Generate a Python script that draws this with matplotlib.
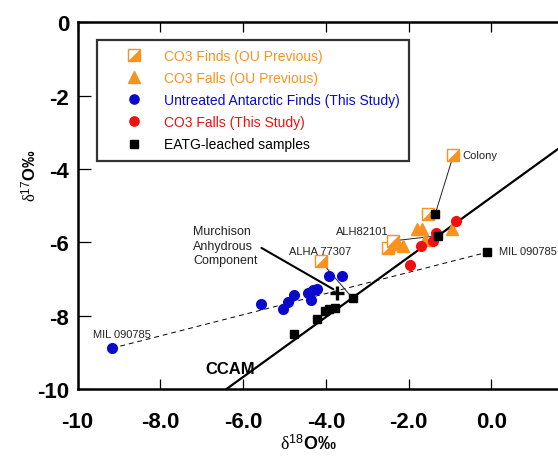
import numpy as np
import matplotlib
matplotlib.use('Agg')
import matplotlib.pyplot as plt
from matplotlib.legend_handler import HandlerTuple

plt.rcParams['font.family'] = ['Liberation Sans', 'DejaVu Sans']
plt.rcParams['mathtext.fontset'] = 'custom'
plt.rcParams['mathtext.rm'] = 'Liberation Serif'
plt.rcParams['mathtext.it'] = 'Liberation Serif:italic'
plt.rcParams['mathtext.sf'] = 'Liberation Sans'

# ==================== data ====================
# Untreated Antarctic finds (this study)
ant_x = [-9.17, -5.57, -5.03, -4.91, -4.76, -4.44, -4.36, -4.30, -4.22, -3.92, -3.60]
ant_y = [-8.89, -7.69, -7.82, -7.64, -7.43, -7.39, -7.56, -7.29, -7.27, -6.91, -6.91]

# EATG-leached samples
eatg_x = [-4.76, -4.22, -4.02, -3.92, -3.78, -3.35, -1.36, -1.29, -0.10]
eatg_y = [-8.50, -8.09, -7.86, -7.82, -7.79, -7.53, -5.23, -5.82, -6.27]

# CO3 falls (this study)
fall_x = [-0.86, -1.34, -1.41, -1.70, -1.97]
fall_y = [-5.41, -5.75, -5.96, -6.11, -6.62]

# CO3 falls (OU previous)
oufall_x = [-1.81, -1.68, -2.26, -2.14, -1.60, -0.96]
oufall_y = [-5.64, -5.64, -6.05, -6.10, -5.94, -5.64]

# CO3 finds (OU previous)
oufind_x = [-4.12, -2.49, -2.37, -1.53, -0.92]
oufind_y = [-6.52, -6.16, -5.96, -5.23, -3.62]

# Murchison anhydrous component
mac_x, mac_y = -3.74, -7.39

# tie lines: untreated/previous -> leached
ties = [((-0.92, -3.62), (-1.36, -5.23)),   # Colony
        ((-4.12, -6.52), (-3.35, -7.53)),   # ALHA 77307
        ((-2.37, -5.96), (-1.29, -5.82))]   # ALH82101
mil_tie = ((-9.17, -8.89), (-0.10, -6.27))  # MIL 090785

# CCAM line
ccam_x = [-6.40, 2.0]
ccam_y = [-10.0, -10.0 + 0.8175 * (2.0 + 6.40)]

x_ticks = [-10, -8, -6, -4, -2, 0]
x_labels = ['-10', '-8.0', '-6.0', '-4.0', '-2.0', '0.0']
y_ticks = [0, -2, -4, -6, -8, -10]
y_labels = ['0', '-2', '-4', '-6', '-8', '-10']

# colours
c_orange = '#F7931E'
c_blue = '#0A0ACF'
c_red = '#F01010'
c_black = '#000000'

# ==================== figure ====================
fig = plt.figure(figsize=(5.58, 4.60), dpi=100)
ax = fig.add_axes([77.5 / 558, 1 - 390 / 460, 496.8 / 558, 366.7 / 460])
ax.set_xlim(-10, 2)
ax.set_ylim(-10, 0)

# lines
ax.plot(ccam_x, ccam_y, color='black', lw=1.6, zorder=2)
ax.plot([mil_tie[0][0], mil_tie[1][0]], [mil_tie[0][1], mil_tie[1][1]],
        color='black', lw=0.7, ls=(0, (5, 4)), zorder=2)
for (p, q) in ties:
    ax.plot([p[0], q[0]], [p[1], q[1]], color='#222222', lw=0.7, zorder=2)

# half-filled squares (CO3 finds OU previous)
tri_verts = [(-1, -1), (1, -1), (1, 1), (-1, -1)]
h_sq, = ax.plot(oufind_x, oufind_y, ls='none', marker='s', ms=8.5,
                mfc='white', mec=c_orange, mew=1.0, zorder=3)
h_tri, = ax.plot(oufind_x, oufind_y, ls='none', marker=tri_verts, ms=8.5,
                 mfc=c_orange, mec=c_orange, mew=0.5, zorder=3)
h_oufall, = ax.plot(oufall_x, oufall_y, ls='none', marker='^', ms=9,
                    mfc=c_orange, mec=c_orange, zorder=4)
h_fall, = ax.plot(fall_x, fall_y, ls='none', marker='o', ms=7,
                  mfc=c_red, mec=c_red, zorder=5)
h_ant, = ax.plot(ant_x, ant_y, ls='none', marker='o', ms=7,
                 mfc=c_blue, mec=c_blue, zorder=5)
h_eatg, = ax.plot(eatg_x, eatg_y, ls='none', marker='s', ms=6.2,
                  mfc=c_black, mec=c_black, zorder=6)
ax.plot(mac_x, mac_y, ls='none', marker='+', ms=10, mew=2.4,
        color='black', zorder=7)

# annotations
lab = dict(fontsize=8, color='#222222', va='center', ha='left')
ax.text(-0.70, -3.62, 'Colony', **lab)
ax.text(0.17, -6.25, 'MIL 090785', **lab)
ax.text(-9.62, -8.50, 'MIL 090785', **lab)
ax.text(-4.90, -6.23, 'ALHA 77307', **lab)
ax.text(-3.75, -5.68, 'ALH82101', **lab)
ax.annotate('Murchison\nAnhydrous\nComponent', xy=(-3.82, -7.28),
            xytext=(-7.21, -6.09), fontsize=9, color='#222222',
            ha='left', va='center', linespacing=1.3,
            arrowprops=dict(arrowstyle='-', color='black', lw=1.5,
                            relpos=(1.0, 0.5), shrinkA=1, shrinkB=0))
ax.text(-6.90, -9.45, 'CCAM', fontsize=12, fontweight='bold', va='center', ha='left')

# axes styling
for side in ['left', 'top', 'bottom', 'right']:
    ax.spines[side].set_linewidth(1.8)
ax.set_xticks(x_ticks)
ax.set_xticklabels(x_labels)
ax.set_yticks(y_ticks)
ax.set_yticklabels(y_labels)
ax.tick_params(axis='x', direction='in', top=True, length=7, width=0.9,
               labelsize=16, pad=16)
ax.tick_params(axis='y', direction='in', right=True, length=9, width=0.9,
               labelsize=16, pad=6)
for t in ax.get_xticklabels() + ax.get_yticklabels():
    t.set_fontweight('bold')

fig.text(308 / 558, 1 - 444 / 460, r'$\mathrm{\delta}^{\mathsf{18}}$O‰',
         fontsize=13, fontweight='bold', ha='center', va='center')
fig.text(30 / 558, 1 - 176 / 460, r'$\mathrm{\delta}^{\mathsf{17}}$O‰',
         fontsize=12, fontweight='bold', ha='center', va='center', rotation=90)

# legend
handles = [(h_sq, h_tri), h_oufall, h_ant, h_fall, h_eatg]
labels = ['CO3 Finds (OU Previous)', 'CO3 Falls (OU Previous)',
          'Untreated Antarctic Finds (This Study)', 'CO3 Falls (This Study)',
          'EATG-leached samples']
leg = ax.legend(handles, labels, handler_map={tuple: HandlerTuple(ndivide=1)},
                loc='upper left', bbox_to_anchor=(0.0386, 0.953),
                borderaxespad=0, fontsize=10, frameon=True, fancybox=False,
                edgecolor='black', borderpad=0.66, labelspacing=0.59,
                handlelength=4.1, handletextpad=0.12, markerscale=0.95)
leg.get_frame().set_linewidth(1.6)
text_colors = [c_orange, c_orange, c_blue, c_red, 'black']
for t, c in zip(leg.get_texts(), text_colors):
    t.set_color(c)

fig.savefig('out.png', dpi=100, facecolor='white')
